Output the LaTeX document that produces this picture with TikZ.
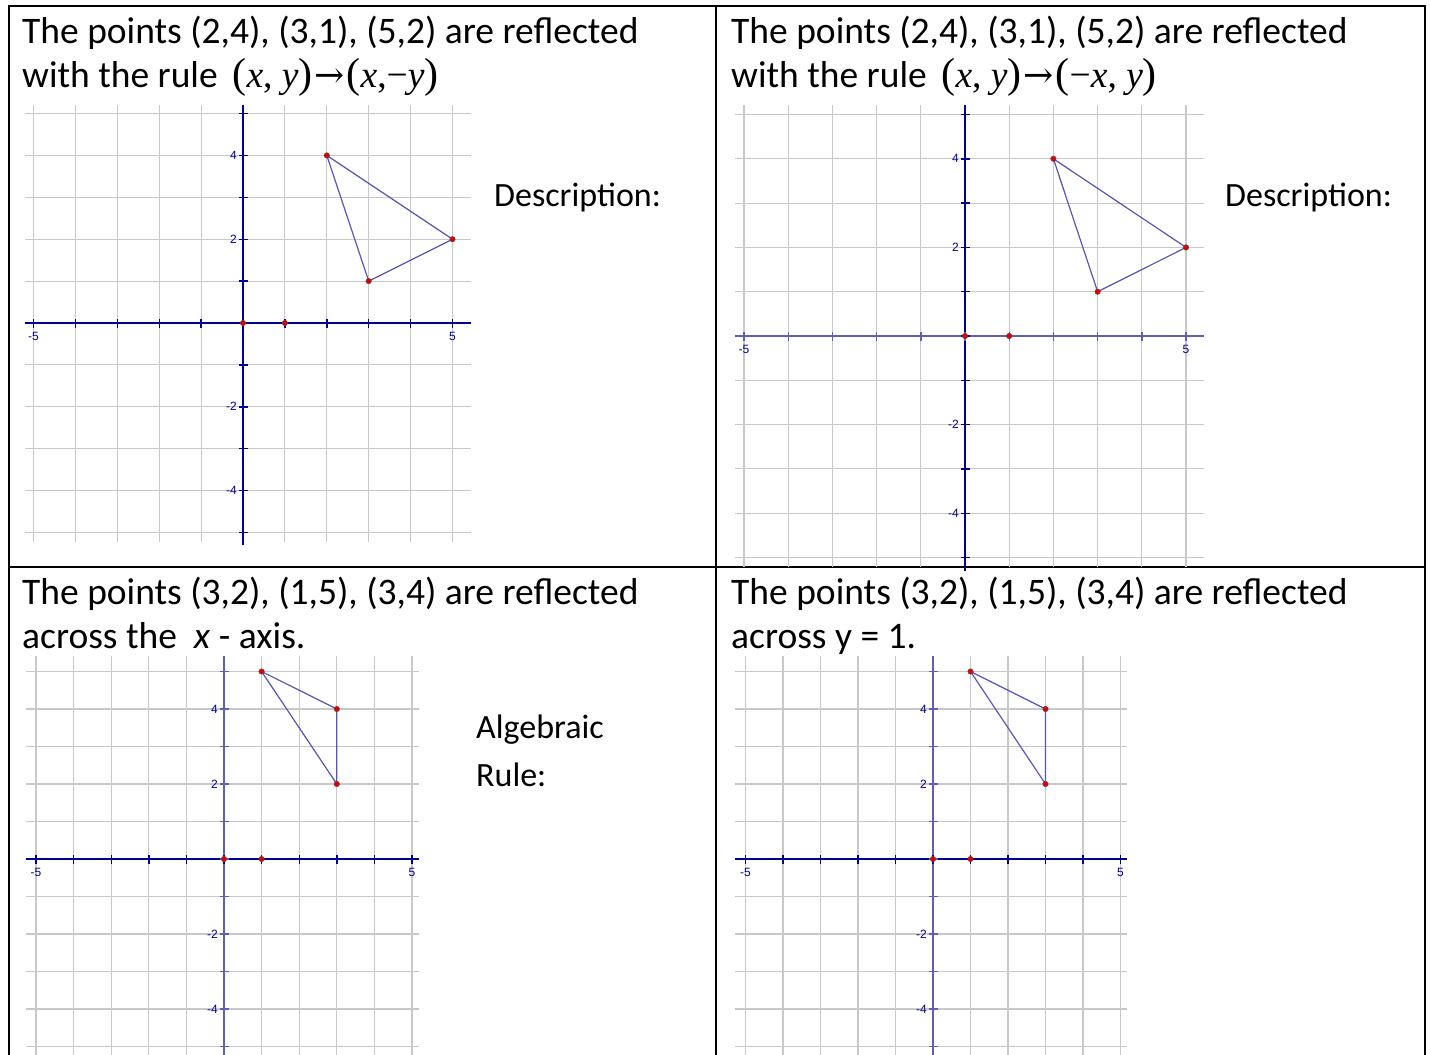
\documentclass[tikz,border=0pt]{standalone}
\usepackage{fontspec}
\setmainfont{Carlito}
\newfontfamily\rulefont{Liberation Serif}
\newfontfamily\arrowfont{DejaVu Serif}
\newfontfamily\ticklabelfont{Liberation Sans}
\usetikzlibrary{positioning}

\definecolor{gridgray}{RGB}{200,200,200}
\definecolor{axisnavy}{RGB}{0,0,140}
\definecolor{axislight}{RGB}{95,95,185}
\definecolor{triblue}{RGB}{85,85,180}
\definecolor{ptred}{RGB}{225,0,0}

\newcommand{\ruleparen}[1]{{\fontsize{42}{42}\selectfont #1}}
\newcommand{\rulearrow}{\kern2pt{\arrowfont\fontsize{36}{36}\selectfont →}\kern2pt}

\begin{document}
\begin{tikzpicture}[
    x=1pt, y=-1pt,
    % Text
    prompt/.style={anchor=base west, inner sep=0pt, font=\fontsize{37.5}{42}\selectfont},
    cue/.style={anchor=base west, inner sep=0pt, font=\fontsize{34}{40}\selectfont},
    ticklabel/.style={inner sep=0pt, text=axisnavy, font=\ticklabelfont\fontsize{12}{14}\selectfont},
    % Frame
    cellborder/.style={line width=2.6pt, black},
    % Graphs
    gridline/.style={gridgray, line width=1.1pt, step=1},
    axisline/.style={axisnavy, line width=1.4pt},
    axisfaint/.style={axislight, line width=1.4pt},
    tri/.style={triblue, line width=1.2pt},
    pt/.style={circle, draw=black!70, fill=ptred, inner sep=0pt, minimum size=5.5pt, line width=0.4pt}
]
\useasboundingbox (0,0) rectangle (1430,1055);

% Table frame
\draw[cellborder] (9,6) rectangle (1425,1070);
\draw[cellborder] (716,6) -- (716,1070);
\draw[cellborder] (9,567) -- (1425,567);

% Top left: (x,y) -> (x,-y)
\node[prompt] (q1a) at (22,43) {The points (2,4), (3,1), (5,2) are reflected};
\node[prompt] (q1b) at (22,87) {with the rule \,{\rulefont\ruleparen{(}\textit{x}, \textit{y}\ruleparen{)}\rulearrow\ruleparen{(}\textit{x},−\textit{y}\ruleparen{)}}};
\node[cue] (desc1) at (494,206) {Description:};

\begin{scope}[shift={(243,323)}, x=41.9pt, y=41.9pt]
  \draw[gridline] (-5.2,-5.23) grid (5.44,5.2);
  \draw[axisline] (-5.2,0) -- (5.44,0);
  \draw[axisline] (0,-5.3) -- (0,5.2);
  \foreach \t in {-5,...,5} {
    \draw[axisline] (\t,0) ++(0,-4.5pt) -- ++(0,9pt);
    \draw[axisline] (0,\t) ++(-4.5pt,0) -- ++(9pt,0);
  }
  \node[ticklabel, below=9pt] (xl1) at (-5,0) {-5};
  \node[ticklabel, below=9pt] (xr1) at (5,0) {5};
  \foreach \v in {4,2,-2,-4}
    \node[ticklabel, left=6pt] at (0,\v) {\v};
  \coordinate (o1) at (0,0);
  \coordinate (u1) at (1,0);
  \coordinate (a1) at (2,4);
  \coordinate (b1) at (3,1);
  \coordinate (c1) at (5,2);
  \draw[tri] (a1) -- (b1) -- (c1) -- cycle;
  \foreach \p in {o1,u1,a1,b1,c1}
    \node[pt] at (\p) {};
\end{scope}

% Top right: (x,y) -> (-x,y)
\node[prompt] (q2a) at (731,43) {The points (2,4), (3,1), (5,2) are reflected};
\node[prompt] (q2b) at (731,87) {with the rule \,{\rulefont\ruleparen{(}\textit{x}, \textit{y}\ruleparen{)}\rulearrow\ruleparen{(}−\textit{x}, \textit{y}\ruleparen{)}}};
\node[cue] (desc2) at (1225,206) {Description:};

\begin{scope}[shift={(965,336)}, x=44.2pt, y=44.3pt]
  \draw[gridline] (-5.2,-5.22) grid (5.41,5.21);
  \draw[axisfaint] (-5.2,0) -- (5.41,0);
  \draw[axisline] (0,-5.3) -- (0,5.21);
  \foreach \t in {-5,...,5} {
    \draw[axisfaint] (\t,0) ++(0,-4.5pt) -- ++(0,9pt);
    \draw[axisline] (0,\t) ++(-4.5pt,0) -- ++(9pt,0);
  }
  \node[ticklabel, below=9pt] (xl2) at (-5,0) {-5};
  \node[ticklabel, below=9pt] (xr2) at (5,0) {5};
  \foreach \v in {4,2,-2,-4}
    \node[ticklabel, left=6pt] at (0,\v) {\v};
  \coordinate (o2) at (0,0);
  \coordinate (u2) at (1,0);
  \coordinate (a2) at (2,4);
  \coordinate (b2) at (3,1);
  \coordinate (c2) at (5,2);
  \draw[tri] (a2) -- (b2) -- (c2) -- cycle;
  \foreach \p in {o2,u2,a2,b2,c2}
    \node[pt] at (\p) {};
\end{scope}

% Bottom left: across the x-axis
\node[prompt] (q3a) at (22,604) {The points (3,2), (1,5), (3,4) are reflected};
\node[prompt] (q3b) at (22,648) {across the \ \textit{x} - axis.};
\node[cue] (alg) at (476,738) {Algebraic};
\node[cue] (rule) at (476,786) {Rule:};

\begin{scope}[shift={(224,859)}, x=37.6pt, y=37.5pt]
  \draw[gridline] (-5.27,-5.4) grid (5.19,5.41);
  \draw[axisline] (-5.27,0) -- (5.19,0);
  \draw[axisfaint] (0,-5.4) -- (0,5.41);
  \foreach \t in {-5,...,5} {
    \draw[axisline] (\t,0) ++(0,-4.5pt) -- ++(0,9pt);
    \draw[axisfaint] (0,\t) ++(-4.5pt,0) -- ++(9pt,0);
  }
  \node[ticklabel, below=9pt] (xl3) at (-5,0) {-5};
  \node[ticklabel, below=9pt] (xr3) at (5,0) {5};
  \foreach \v in {4,2,-2,-4}
    \node[ticklabel, left=6pt] at (0,\v) {\v};
  \coordinate (o3) at (0,0);
  \coordinate (u3) at (1,0);
  \coordinate (a3) at (1,5);
  \coordinate (b3) at (3,4);
  \coordinate (c3) at (3,2);
  \draw[tri] (a3) -- (b3) -- (c3) -- cycle;
  \foreach \p in {o3,u3,a3,b3,c3}
    \node[pt] at (\p) {};
\end{scope}

% Bottom right: across y = 1
\node[prompt] (q4a) at (731,604) {The points (3,2), (1,5), (3,4) are reflected};
\node[prompt] (q4b) at (731,648) {across y = 1.};

\begin{scope}[shift={(933,859)}, x=37.5pt, y=37.5pt]
  \draw[gridline] (-5.28,-5.4) grid (5.17,5.41);
  \draw[axisline] (-5.28,0) -- (5.17,0);
  \draw[axisfaint] (0,-5.4) -- (0,5.41);
  \foreach \t in {-5,...,5} {
    \draw[axisline] (\t,0) ++(0,-4.5pt) -- ++(0,9pt);
    \draw[axisfaint] (0,\t) ++(-4.5pt,0) -- ++(9pt,0);
  }
  \node[ticklabel, below=9pt] (xl4) at (-5,0) {-5};
  \node[ticklabel, below=9pt] (xr4) at (5,0) {5};
  \foreach \v in {4,2,-2,-4}
    \node[ticklabel, left=6pt] at (0,\v) {\v};
  \coordinate (o4) at (0,0);
  \coordinate (u4) at (1,0);
  \coordinate (a4) at (1,5);
  \coordinate (b4) at (3,4);
  \coordinate (c4) at (3,2);
  \draw[tri] (a4) -- (b4) -- (c4) -- cycle;
  \foreach \p in {o4,u4,a4,b4,c4}
    \node[pt] at (\p) {};
\end{scope}

\end{tikzpicture}
\end{document}
